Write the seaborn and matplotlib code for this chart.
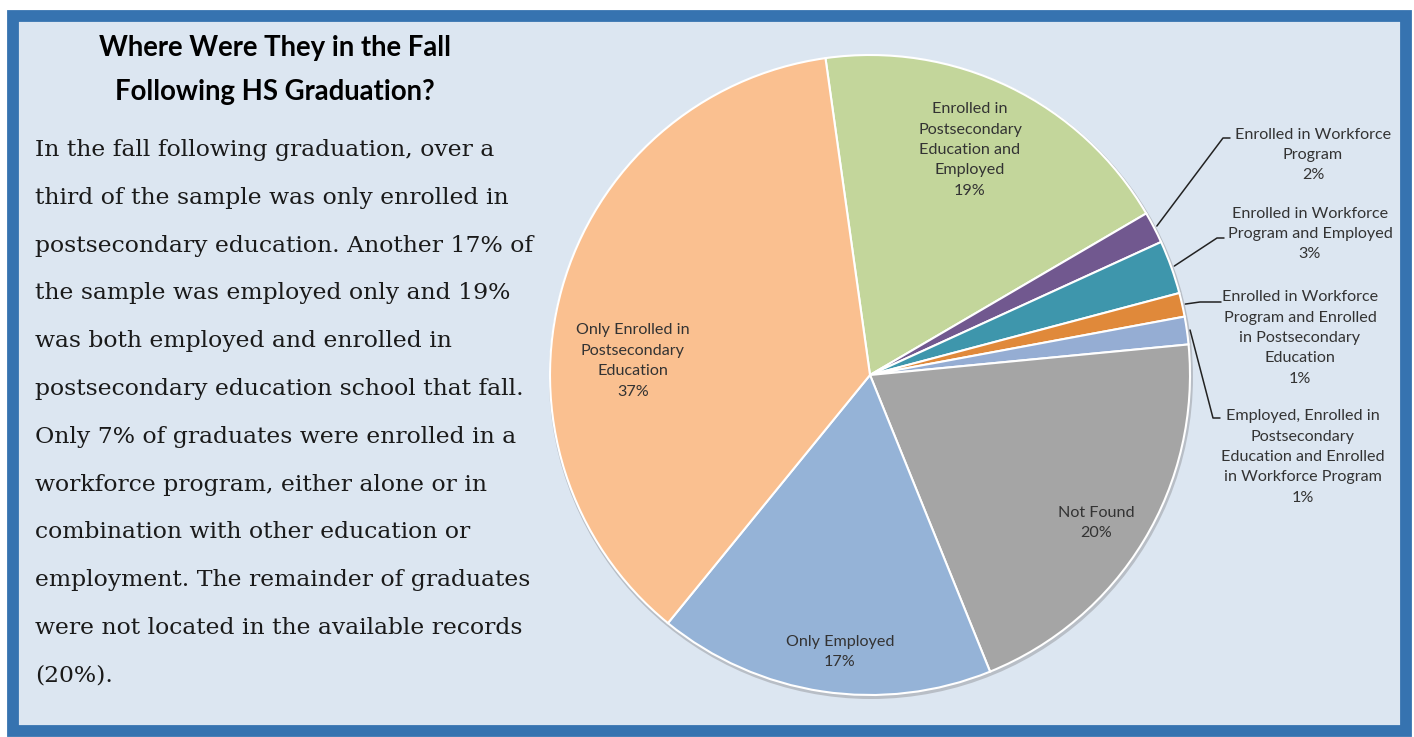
import matplotlib
matplotlib.use("Agg")
import matplotlib.pyplot as plt
import matplotlib.patches as mpatches
import seaborn as sns
import numpy as np

# slices in clockwise order, starting from the top
categories = [
    "Enrolled in\nPostsecondary\nEducation and\nEmployed",
    "Enrolled in Workforce\nProgram",
    "Enrolled in Workforce\nProgram and Employed",
    "Enrolled in Workforce\nProgram and Enrolled\nin Postsecondary\nEducation",
    "Employed, Enrolled in\nPostsecondary\nEducation and Enrolled\nin Workforce Program",
    "Not Found",
    "Only Employed",
    "Only Enrolled in\nPostsecondary\nEducation",
]
shares = [18.8, 1.6, 2.7, 1.2, 1.4, 20.4, 17.0, 36.9]
colors = ["#C3D69B", "#71588F", "#3E96AC", "#E0893A", "#95ADD3",
          "#A5A5A5", "#95B3D7", "#FAC090"]

title = "Where Were They in the Fall\nFollowing HS Graduation?"
body_lines = [
    "In the fall following graduation, over a",
    "third of the sample was only enrolled in",
    "postsecondary education. Another 17% of",
    "the sample was employed only and 19%",
    "was both employed and enrolled in",
    "postsecondary education school that fall.",
    "Only 7% of graduates were enrolled in a",
    "workforce program, either alone or in",
    "combination with other education or",
    "employment. The remainder of graduates",
    "were not located in the available records",
    "(20%).",
]

W, H = 1414, 737
sns.set_theme(style="white")
plt.rcParams["font.family"] = ["Lato", "DejaVu Sans"]

fig = plt.figure(figsize=(W / 100, H / 100), dpi=100, facecolor="white")
ax = fig.add_axes([0, 0, 1, 1])
ax.set_xlim(0, W)
ax.set_ylim(0, H)
ax.set_aspect("equal")
ax.axis("off")

def Y(y):
    return H - y

# panel
ax.add_patch(mpatches.Rectangle((13, Y(731)), 1393, 715, facecolor="#DCE6F1",
                                edgecolor="#3673B0", linewidth=8.5, zorder=0))

# text block
ax.text(275, Y(70), title, ha="center", va="center", fontsize=19.8,
        fontweight="bold", color="black", linespacing=1.9)
for i, line in enumerate(body_lines):
    ax.text(35, Y(150 + i * 47.8), line, ha="left", va="center",
            fontsize=16.9, family="DejaVu Serif", color="#1a1a1a")

# pie
cx, cy, r = 870, Y(375), 320
ax.add_patch(mpatches.Circle((cx + 1, cy - 2), r + 2, facecolor="#B8BEC6",
                             edgecolor="none", zorder=1))
wedges, _ = ax.pie(shares, colors=colors, startangle=98, counterclock=False,
                   center=(cx, cy), radius=r, frame=True,
                   wedgeprops=dict(edgecolor="white", linewidth=1.5))
for w in wedges:
    w.set_zorder(2)
ax.set_xlim(0, W)
ax.set_ylim(0, H)
ax.axis("off")

labels = [f"{c}\n{round(s)}%" for c, s in zip(categories, shares)]
lab_kw = dict(ha="center", va="center", fontsize=11.6, color="#333333",
              linespacing=1.58, zorder=5)

# labels inside the big slices
inside = {0: (970, 150), 5: (1096, 523), 6: (840, 652), 7: (633, 361)}
for i, (x, y) in inside.items():
    ax.text(x, Y(y), labels[i], **lab_kw)

# callouts for the thin slices: (elbow, line end, text centre)
callouts = {
    1: ((1223, 138), (1230, 138), (1313, 155)),
    2: ((1217, 238), (1224, 238), (1310, 234)),
    3: ((1200, 302), (1221, 302), (1300, 338)),
    4: ((1213, 418), (1220, 418), (1303, 457)),
}
for i, (elbow, end, txt) in callouts.items():
    w = wedges[i]
    mid = np.deg2rad((w.theta1 + w.theta2) / 2)
    sx, sy = cx + r * 1.01 * np.cos(mid), cy + r * 1.01 * np.sin(mid)
    ax.plot([sx, elbow[0], end[0]], [sy, Y(elbow[1]), Y(end[1])],
            color="#222222", linewidth=1.1, zorder=4)
    ax.text(txt[0], Y(txt[1]), labels[i], **lab_kw)

fig.savefig("out.png", dpi=100, facecolor="white")
plt.close(fig)
